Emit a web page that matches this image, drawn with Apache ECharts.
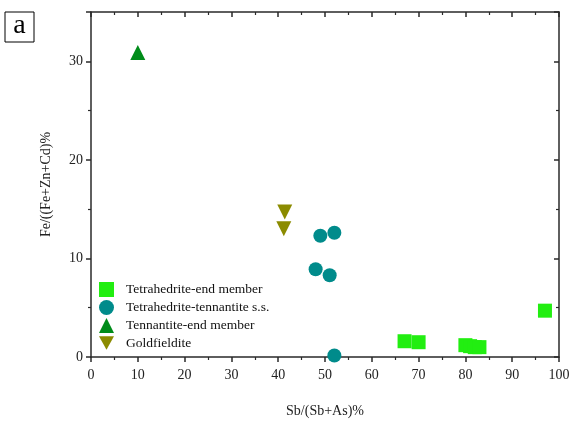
<!DOCTYPE html>
<html><head><meta charset="utf-8">
<script src="https://cdn.jsdelivr.net/npm/echarts@6/dist/echarts.min.js"></script>
<style>html,body{margin:0;padding:0;background:#fff}#c{width:573px;height:423px}</style>
</head><body><div id="c"></div>
<script>
const tetraEnd = [[67,1.6],[70,1.5],[80,1.2],[81,1.1],[82,1.0],[83,1.0],[97,4.7]];
const tetraTenn = [[48,8.9],[49,12.3],[51,8.3],[52,12.6],[52,0.15]];
const tennEnd = [[10,30.9]];
const goldfield = [[41.4,14.7],[41.2,13.0]];
const names = ['Tetrahedrite-end member','Tetrahedrite-tennantite s.s.','Tennantite-end member','Goldfieldite'];
const xTicks = [0,10,20,30,40,50,60,70,80,90,100];
const yTicks = [0,10,20,30];

const font = 'Liberation Serif';
const axisLine = {show:true,onZero:false,lineStyle:{color:'#2a2a2a',width:1.5}};
const tickOut = {inside:false,length:5,lineStyle:{color:'#2a2a2a',width:1.5}};
const tickIn = {inside:true,length:5,lineStyle:{color:'#2a2a2a',width:1.5}};
const minorTk = {show:true,splitNumber:2,length:3,lineStyle:{color:'#2a2a2a',width:1.2}};
const downTri = 'path://M0,0 L10,0 L5,9 Z';
const chart = echarts.init(document.getElementById('c'));
chart.setOption({
  animation:false,
  grid:{left:91,right:14,top:12,bottom:61},
  graphic:[{type:'rect',shape:{x:5,y:12,width:29,height:30},style:{fill:'#fff',stroke:'#000',lineWidth:1}},
           {type:'text',style:{x:19.5,y:26,text:'a',font:'28px "Liberation Serif"',fill:'#000',align:'center',verticalAlign:'middle'}}],
  legend:{orient:'vertical',left:99,top:282,itemGap:3,itemWidth:15,itemHeight:15,padding:0,
    textStyle:{fontFamily:font,fontSize:13.5,color:'#111',padding:[0,0,0,7]},
    data:[{name:names[0],icon:'rect'},{name:names[1],icon:'circle'},{name:names[2],icon:'triangle'},{name:names[3],icon:downTri}]},
  xAxis:[{type:'value',min:0,max:100,interval:10,position:'bottom',
      name:'Sb/(Sb+As)%',nameLocation:'middle',nameGap:47,nameTextStyle:{fontFamily:font,fontSize:14,color:'#222'},
      axisLine:axisLine,axisTick:tickOut,minorTick:minorTk,
      axisLabel:{fontFamily:font,fontSize:14,color:'#222',margin:11,formatter:v=>xTicks.includes(v)?String(v):''},
      splitLine:{show:false}},
    {type:'value',min:0,max:100,interval:10,position:'top',
      axisLine:axisLine,axisTick:tickIn,minorTick:minorTk,axisLabel:{show:false},splitLine:{show:false}}],
  yAxis:[{type:'value',min:0,max:35,interval:10,position:'left',
      name:'Fe/((Fe+Zn+Cd)%',nameLocation:'middle',nameGap:38,nameTextStyle:{fontFamily:font,fontSize:14,color:'#222'},
      axisLine:axisLine,axisTick:tickOut,minorTick:minorTk,
      axisLabel:{fontFamily:font,fontSize:14,color:'#222',margin:8,formatter:v=>yTicks.includes(v)?String(v):''},
      splitLine:{show:false}},
    {type:'value',min:0,max:35,interval:10,position:'right',
      axisLine:axisLine,axisTick:tickIn,minorTick:minorTk,axisLabel:{show:false},splitLine:{show:false}}],
  series:[
    {name:names[0],type:'scatter',data:tetraEnd,symbol:'rect',symbolSize:14,itemStyle:{color:'#22ee11',opacity:1}},
    {name:names[1],type:'scatter',data:tetraTenn,symbol:'circle',symbolSize:14,itemStyle:{color:'#008b8b',opacity:1}},
    {name:names[2],type:'scatter',data:tennEnd,symbol:'triangle',symbolSize:15,itemStyle:{color:'#008c1a',opacity:1}},
    {name:names[3],type:'scatter',data:goldfield,symbol:'triangle',symbolRotate:180,symbolSize:15,itemStyle:{color:'#8b8b00',opacity:1}}
  ]
});
</script></body></html>
